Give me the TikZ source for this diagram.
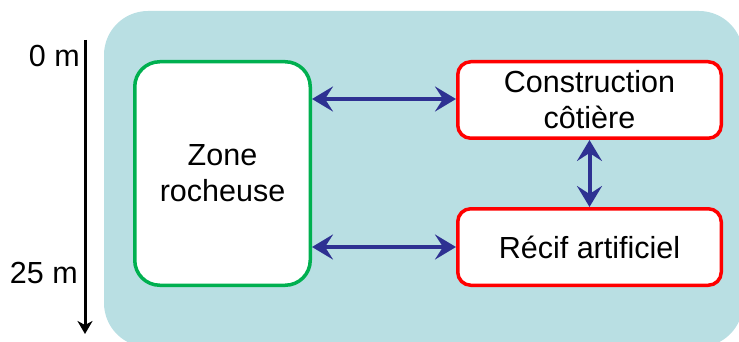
\documentclass[tikz,border=0pt]{standalone}
\usepackage{fontspec}
\setmainfont{Liberation Sans}
\usetikzlibrary{arrows.meta}
\definecolor{sea}{RGB}{185,223,227}
\definecolor{boxgreen}{RGB}{0,176,80}
\definecolor{boxred}{RGB}{255,0,0}
\definecolor{arrowblue}{RGB}{46,49,146}
\begin{document}
\begin{tikzpicture}[x=1pt,y=-1pt,
  lab/.style={font=\fontsize{30.5}{36}\selectfont, align=center, text=black},
  rock/.style={draw=boxgreen, line width=3.5pt, fill=white, rounded corners=25pt,
    minimum width=175.5pt, minimum height=223.5pt, lab},
  man/.style={draw=boxred, line width=3.5pt, fill=white, rounded corners=13pt,
    minimum width=263.5pt, minimum height=76.5pt, lab},
  link/.style={arrowblue, line width=4pt,
    {Stealth[length=21pt,width=25pt,inset=8pt]}-{Stealth[length=21pt,width=25pt,inset=8pt]}},
  depth/.style={black, line width=3pt, -{Stealth[length=13pt,width=15pt,inset=4pt]}},
  tick/.style={lab, inner sep=0pt}
]
\useasboundingbox (0,0) rectangle (739,342);
\begin{scope}
  \clip (0,0) rectangle (739,342);
  \fill[sea, rounded corners=44pt] (104,11) rectangle (743,347);
\end{scope}

\node[rock] (rock) at (222.5,173.5) {Zone\\rocheuse};
\node[man] (con) at (589.5,100) {Construction\\côtière};
\node[man] (rec) at (589.5,247) {Récif artificiel};

\draw[link] (rock.east |- 0,99) coordinate (a1) -- (con.west |- a1);
\draw[link] (rock.east |- rec.west) -- (rec.west);
\draw[link] (con.south) -- (rec.north);

\coordinate (dtop) at (85,40);
\coordinate (dbot) at (85,334);
\draw[depth] (dtop) -- (dbot);
\node[tick, anchor=base east] (d0) at (80,67) {0 m};
\node[tick, anchor=base east] (d25) at (78,283) {25 m};
\end{tikzpicture}
\end{document}
